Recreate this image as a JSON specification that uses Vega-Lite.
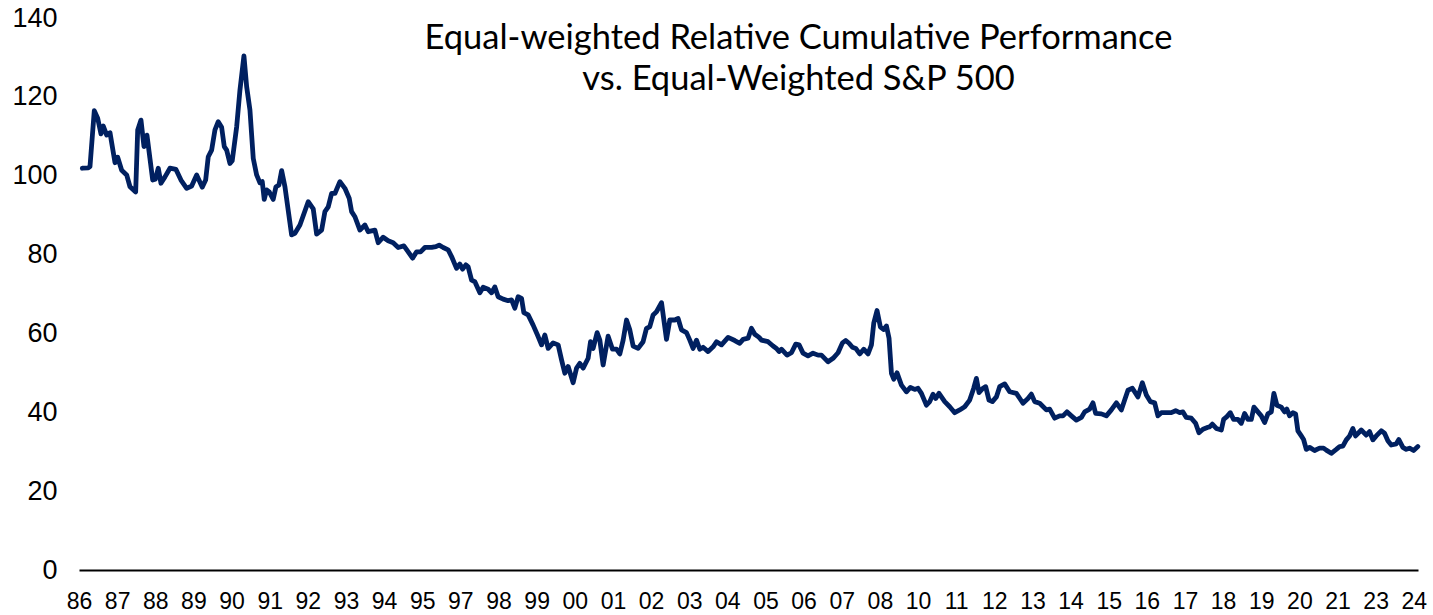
{
  "$schema": "https://vega.github.io/schema/vega-lite/v6.json",
  "autosize": "none",
  "width": 1339,
  "height": 552,
  "padding": {"left": 79, "top": 18, "right": 15, "bottom": 45},
  "background": "white",
  "config": {"view": {"stroke": null}},
  "title": {
    "text": ["Equal-weighted Relative Cumulative Performance", "vs. Equal-Weighted S&P 500"],
    "font": "Lato",
    "fontSize": 34.5,
    "fontWeight": "normal",
    "color": "black",
    "anchor": "middle",
    "lineHeight": 41,
    "dx": 50,
    "dy": 97
  },
  "data": {
    "values": [
      {"pos": 0.087, "value": 101.9}, {"pos": 0.244, "value": 102.0}, {"pos": 0.288, "value": 102.3},
      {"pos": 0.401, "value": 116.5}, {"pos": 0.490, "value": 114.6}, {"pos": 0.577, "value": 110.6},
      {"pos": 0.637, "value": 112.6}, {"pos": 0.726, "value": 110.3}, {"pos": 0.813, "value": 110.9},
      {"pos": 0.944, "value": 103.3}, {"pos": 1.014, "value": 104.7}, {"pos": 1.119, "value": 101.4},
      {"pos": 1.250, "value": 100.2}, {"pos": 1.337, "value": 97.2}, {"pos": 1.486, "value": 95.9},
      {"pos": 1.539, "value": 111.6}, {"pos": 1.625, "value": 114.1}, {"pos": 1.704, "value": 107.4},
      {"pos": 1.782, "value": 110.3}, {"pos": 1.932, "value": 98.9}, {"pos": 2.000, "value": 99.1},
      {"pos": 2.079, "value": 101.9}, {"pos": 2.149, "value": 98.1}, {"pos": 2.254, "value": 99.7},
      {"pos": 2.385, "value": 101.9}, {"pos": 2.543, "value": 101.6}, {"pos": 2.674, "value": 98.9},
      {"pos": 2.823, "value": 96.8}, {"pos": 2.954, "value": 97.4}, {"pos": 3.085, "value": 100.2},
      {"pos": 3.232, "value": 97.1}, {"pos": 3.321, "value": 98.9}, {"pos": 3.389, "value": 104.8},
      {"pos": 3.478, "value": 106.5}, {"pos": 3.565, "value": 111.6}, {"pos": 3.651, "value": 113.7},
      {"pos": 3.740, "value": 112.3}, {"pos": 3.809, "value": 107.4}, {"pos": 3.872, "value": 106.5},
      {"pos": 3.958, "value": 103.1}, {"pos": 4.018, "value": 103.8}, {"pos": 4.134, "value": 112.4},
      {"pos": 4.220, "value": 121.7}, {"pos": 4.325, "value": 130.4}, {"pos": 4.396, "value": 122.6},
      {"pos": 4.482, "value": 116.7}, {"pos": 4.569, "value": 104.4}, {"pos": 4.658, "value": 100.2},
      {"pos": 4.744, "value": 98.2}, {"pos": 4.805, "value": 98.5}, {"pos": 4.857, "value": 94.0},
      {"pos": 4.920, "value": 96.4}, {"pos": 4.988, "value": 95.9}, {"pos": 5.093, "value": 94.0},
      {"pos": 5.164, "value": 97.2}, {"pos": 5.242, "value": 97.6}, {"pos": 5.313, "value": 101.3},
      {"pos": 5.400, "value": 97.2}, {"pos": 5.575, "value": 85.0}, {"pos": 5.662, "value": 85.4},
      {"pos": 5.793, "value": 87.5}, {"pos": 6.010, "value": 93.4}, {"pos": 6.142, "value": 91.6},
      {"pos": 6.231, "value": 85.2}, {"pos": 6.362, "value": 86.2}, {"pos": 6.448, "value": 90.9},
      {"pos": 6.535, "value": 92.1}, {"pos": 6.624, "value": 95.5}, {"pos": 6.710, "value": 95.5},
      {"pos": 6.841, "value": 98.5}, {"pos": 6.972, "value": 96.8}, {"pos": 7.085, "value": 94.3},
      {"pos": 7.148, "value": 90.9}, {"pos": 7.235, "value": 89.6}, {"pos": 7.366, "value": 86.2},
      {"pos": 7.497, "value": 87.5}, {"pos": 7.583, "value": 85.8}, {"pos": 7.759, "value": 86.2},
      {"pos": 7.845, "value": 83.0}, {"pos": 7.976, "value": 84.4}, {"pos": 8.107, "value": 83.5},
      {"pos": 8.238, "value": 83.0}, {"pos": 8.370, "value": 81.8}, {"pos": 8.519, "value": 82.2},
      {"pos": 8.632, "value": 80.7}, {"pos": 8.747, "value": 79.1}, {"pos": 8.852, "value": 80.7},
      {"pos": 8.957, "value": 80.7}, {"pos": 9.069, "value": 81.8}, {"pos": 9.245, "value": 81.8},
      {"pos": 9.358, "value": 82.0}, {"pos": 9.444, "value": 82.4}, {"pos": 9.549, "value": 81.8},
      {"pos": 9.680, "value": 81.2}, {"pos": 9.769, "value": 79.5}, {"pos": 9.900, "value": 76.5},
      {"pos": 9.987, "value": 77.6}, {"pos": 10.058, "value": 76.3}, {"pos": 10.144, "value": 77.4},
      {"pos": 10.204, "value": 76.9}, {"pos": 10.294, "value": 73.5}, {"pos": 10.380, "value": 73.1},
      {"pos": 10.511, "value": 70.3}, {"pos": 10.598, "value": 71.7}, {"pos": 10.729, "value": 71.2},
      {"pos": 10.818, "value": 70.3}, {"pos": 10.904, "value": 71.8}, {"pos": 10.991, "value": 69.3},
      {"pos": 11.122, "value": 68.7}, {"pos": 11.253, "value": 68.3}, {"pos": 11.342, "value": 68.5},
      {"pos": 11.428, "value": 66.4}, {"pos": 11.515, "value": 69.3}, {"pos": 11.604, "value": 68.9},
      {"pos": 11.664, "value": 65.3}, {"pos": 11.777, "value": 64.7}, {"pos": 11.908, "value": 62.1},
      {"pos": 12.039, "value": 59.2}, {"pos": 12.128, "value": 57.1}, {"pos": 12.215, "value": 59.6},
      {"pos": 12.302, "value": 56.2}, {"pos": 12.432, "value": 57.6}, {"pos": 12.564, "value": 57.1},
      {"pos": 12.653, "value": 53.3}, {"pos": 12.739, "value": 49.9}, {"pos": 12.826, "value": 51.6},
      {"pos": 12.957, "value": 47.5}, {"pos": 13.046, "value": 51.2}, {"pos": 13.132, "value": 52.4},
      {"pos": 13.219, "value": 51.2}, {"pos": 13.350, "value": 53.7}, {"pos": 13.413, "value": 57.9},
      {"pos": 13.481, "value": 56.2}, {"pos": 13.586, "value": 60.2}, {"pos": 13.657, "value": 58.3},
      {"pos": 13.743, "value": 52.0}, {"pos": 13.874, "value": 59.3}, {"pos": 13.989, "value": 56.0},
      {"pos": 14.094, "value": 56.0}, {"pos": 14.181, "value": 54.8}, {"pos": 14.268, "value": 58.3},
      {"pos": 14.356, "value": 63.4}, {"pos": 14.443, "value": 60.9}, {"pos": 14.530, "value": 56.8},
      {"pos": 14.660, "value": 56.2}, {"pos": 14.791, "value": 57.9}, {"pos": 14.880, "value": 61.3},
      {"pos": 14.967, "value": 61.7}, {"pos": 15.054, "value": 64.7}, {"pos": 15.143, "value": 65.5},
      {"pos": 15.274, "value": 67.8}, {"pos": 15.405, "value": 58.5}, {"pos": 15.491, "value": 63.4},
      {"pos": 15.622, "value": 63.4}, {"pos": 15.709, "value": 63.8}, {"pos": 15.798, "value": 60.9},
      {"pos": 15.929, "value": 60.2}, {"pos": 16.016, "value": 58.3}, {"pos": 16.102, "value": 56.2},
      {"pos": 16.191, "value": 58.3}, {"pos": 16.278, "value": 56.0}, {"pos": 16.365, "value": 56.5},
      {"pos": 16.496, "value": 55.4}, {"pos": 16.627, "value": 56.6}, {"pos": 16.716, "value": 57.9},
      {"pos": 16.847, "value": 57.1}, {"pos": 17.020, "value": 59.0}, {"pos": 17.195, "value": 58.2},
      {"pos": 17.326, "value": 57.5}, {"pos": 17.413, "value": 58.5}, {"pos": 17.544, "value": 58.8},
      {"pos": 17.633, "value": 61.3}, {"pos": 17.720, "value": 59.8}, {"pos": 17.833, "value": 59.0},
      {"pos": 17.895, "value": 58.3}, {"pos": 18.068, "value": 57.9}, {"pos": 18.199, "value": 56.8},
      {"pos": 18.288, "value": 56.2}, {"pos": 18.356, "value": 55.4}, {"pos": 18.419, "value": 56.0},
      {"pos": 18.566, "value": 54.5}, {"pos": 18.681, "value": 55.1}, {"pos": 18.794, "value": 57.3},
      {"pos": 18.881, "value": 57.1}, {"pos": 18.985, "value": 55.0}, {"pos": 19.116, "value": 54.3},
      {"pos": 19.247, "value": 55.0}, {"pos": 19.379, "value": 54.5}, {"pos": 19.468, "value": 54.5},
      {"pos": 19.641, "value": 52.8}, {"pos": 19.772, "value": 53.7}, {"pos": 19.903, "value": 55.1},
      {"pos": 20.018, "value": 57.6}, {"pos": 20.105, "value": 58.2}, {"pos": 20.191, "value": 57.5},
      {"pos": 20.280, "value": 56.5}, {"pos": 20.367, "value": 56.2}, {"pos": 20.472, "value": 54.8},
      {"pos": 20.576, "value": 56.0}, {"pos": 20.689, "value": 54.8}, {"pos": 20.779, "value": 57.1},
      {"pos": 20.839, "value": 62.6}, {"pos": 20.925, "value": 65.8}, {"pos": 21.014, "value": 61.6},
      {"pos": 21.101, "value": 61.0}, {"pos": 21.172, "value": 61.9}, {"pos": 21.240, "value": 58.8},
      {"pos": 21.303, "value": 49.9}, {"pos": 21.364, "value": 48.4}, {"pos": 21.450, "value": 50.0},
      {"pos": 21.565, "value": 46.9}, {"pos": 21.696, "value": 45.2}, {"pos": 21.800, "value": 46.3},
      {"pos": 21.913, "value": 45.8}, {"pos": 22.000, "value": 46.1}, {"pos": 22.089, "value": 44.8},
      {"pos": 22.220, "value": 41.8}, {"pos": 22.307, "value": 42.7}, {"pos": 22.393, "value": 44.6},
      {"pos": 22.464, "value": 43.5}, {"pos": 22.550, "value": 44.8}, {"pos": 22.700, "value": 42.7},
      {"pos": 22.831, "value": 41.4}, {"pos": 22.962, "value": 39.9}, {"pos": 23.093, "value": 40.6},
      {"pos": 23.224, "value": 41.4}, {"pos": 23.355, "value": 43.1}, {"pos": 23.460, "value": 46.1},
      {"pos": 23.531, "value": 48.6}, {"pos": 23.599, "value": 45.0}, {"pos": 23.704, "value": 46.1},
      {"pos": 23.774, "value": 46.5}, {"pos": 23.861, "value": 43.1}, {"pos": 23.950, "value": 42.7},
      {"pos": 24.055, "value": 43.9}, {"pos": 24.141, "value": 46.5}, {"pos": 24.272, "value": 47.2},
      {"pos": 24.403, "value": 45.2}, {"pos": 24.579, "value": 44.8}, {"pos": 24.752, "value": 42.3},
      {"pos": 24.883, "value": 43.5}, {"pos": 24.972, "value": 44.6}, {"pos": 25.059, "value": 42.7},
      {"pos": 25.190, "value": 42.3}, {"pos": 25.365, "value": 40.6}, {"pos": 25.452, "value": 40.8},
      {"pos": 25.583, "value": 38.5}, {"pos": 25.714, "value": 39.1}, {"pos": 25.801, "value": 39.1},
      {"pos": 25.905, "value": 40.1}, {"pos": 26.021, "value": 39.1}, {"pos": 26.152, "value": 38.0},
      {"pos": 26.283, "value": 38.7}, {"pos": 26.369, "value": 40.1}, {"pos": 26.500, "value": 40.8},
      {"pos": 26.587, "value": 42.4}, {"pos": 26.658, "value": 39.7}, {"pos": 26.807, "value": 39.6},
      {"pos": 26.938, "value": 39.1}, {"pos": 27.069, "value": 40.6}, {"pos": 27.201, "value": 42.4},
      {"pos": 27.331, "value": 40.6}, {"pos": 27.418, "value": 43.1}, {"pos": 27.505, "value": 45.6},
      {"pos": 27.620, "value": 46.1}, {"pos": 27.767, "value": 43.9}, {"pos": 27.882, "value": 47.5},
      {"pos": 27.987, "value": 44.4}, {"pos": 28.092, "value": 42.7}, {"pos": 28.205, "value": 42.4},
      {"pos": 28.291, "value": 39.1}, {"pos": 28.380, "value": 39.9}, {"pos": 28.511, "value": 39.9},
      {"pos": 28.642, "value": 39.9}, {"pos": 28.755, "value": 40.4}, {"pos": 28.861, "value": 39.9},
      {"pos": 28.947, "value": 40.1}, {"pos": 29.035, "value": 38.7}, {"pos": 29.166, "value": 38.5},
      {"pos": 29.279, "value": 37.2}, {"pos": 29.366, "value": 34.8}, {"pos": 29.471, "value": 35.7},
      {"pos": 29.602, "value": 36.2}, {"pos": 29.646, "value": 36.3}, {"pos": 29.717, "value": 37.0},
      {"pos": 29.822, "value": 35.9}, {"pos": 29.953, "value": 35.5}, {"pos": 30.013, "value": 38.2},
      {"pos": 30.099, "value": 38.9}, {"pos": 30.189, "value": 39.9}, {"pos": 30.275, "value": 38.2},
      {"pos": 30.388, "value": 38.2}, {"pos": 30.477, "value": 37.2}, {"pos": 30.563, "value": 39.7},
      {"pos": 30.650, "value": 38.2}, {"pos": 30.739, "value": 38.2}, {"pos": 30.807, "value": 41.3},
      {"pos": 30.912, "value": 40.1}, {"pos": 31.001, "value": 39.1}, {"pos": 31.088, "value": 37.4},
      {"pos": 31.174, "value": 39.6}, {"pos": 31.263, "value": 40.1}, {"pos": 31.331, "value": 44.8},
      {"pos": 31.410, "value": 41.8}, {"pos": 31.525, "value": 41.3}, {"pos": 31.612, "value": 40.1},
      {"pos": 31.672, "value": 40.8}, {"pos": 31.743, "value": 39.1}, {"pos": 31.830, "value": 39.9},
      {"pos": 31.900, "value": 39.6}, {"pos": 31.961, "value": 35.3}, {"pos": 32.050, "value": 34.0},
      {"pos": 32.110, "value": 33.1}, {"pos": 32.181, "value": 30.6}, {"pos": 32.268, "value": 31.1},
      {"pos": 32.398, "value": 30.3}, {"pos": 32.529, "value": 30.9}, {"pos": 32.634, "value": 30.9},
      {"pos": 32.705, "value": 30.4}, {"pos": 32.836, "value": 29.6}, {"pos": 32.967, "value": 30.6},
      {"pos": 33.054, "value": 31.3}, {"pos": 33.140, "value": 31.4}, {"pos": 33.229, "value": 33.0},
      {"pos": 33.316, "value": 34.0}, {"pos": 33.402, "value": 35.9}, {"pos": 33.473, "value": 34.0},
      {"pos": 33.622, "value": 35.5}, {"pos": 33.753, "value": 34.2}, {"pos": 33.840, "value": 35.1},
      {"pos": 33.927, "value": 33.0}, {"pos": 34.015, "value": 34.0}, {"pos": 34.146, "value": 35.3},
      {"pos": 34.233, "value": 34.7}, {"pos": 34.320, "value": 32.8}, {"pos": 34.409, "value": 31.7},
      {"pos": 34.540, "value": 32.0}, {"pos": 34.608, "value": 33.1}, {"pos": 34.713, "value": 31.1},
      {"pos": 34.802, "value": 30.6}, {"pos": 34.889, "value": 30.9}, {"pos": 34.994, "value": 30.3},
      {"pos": 35.106, "value": 31.3}
    ]
  },
  "mark": {"type": "line", "color": "#002060", "strokeWidth": 4.8, "strokeJoin": "round", "strokeCap": "round"},
  "encoding": {
    "x": {
      "field": "pos",
      "type": "quantitative",
      "scale": {"domain": [0, 35.11], "nice": false, "zero": false},
      "axis": {
        "title": null,
        "grid": false,
        "ticks": false,
        "domain": true,
        "domainColor": "#000000",
        "domainWidth": 2,
        "values": [0,1,2,3,4,5,6,7,8,9,10,11,12,13,14,15,16,17,18,19,20,21,22,23,24,25,26,27,28,29,30,31,32,33,34,35],
        "labelExpr": "['86','87','88','89','90','91','92','93','94','95','97','98','99','00','01','02','03','04','05','06','07','08','10','11','12','13','14','15','16','17','18','19','20','21','23','24'][datum.value]",
        "labelFont": "Liberation Sans",
        "labelFontSize": 23,
        "labelColor": "#000000",
        "labelPadding": 20,
        "labelOverlap": false,
        "labelFlush": false
      }
    },
    "y": {
      "field": "value",
      "type": "quantitative",
      "scale": {"domain": [0, 140], "nice": false},
      "axis": {
        "title": null,
        "grid": false,
        "ticks": false,
        "domain": false,
        "values": [0, 20, 40, 60, 80, 100, 120, 140],
        "labelFont": "Liberation Sans",
        "labelFontSize": 27,
        "labelColor": "#000000",
        "labelPadding": 22,
        "labelFlush": false
      }
    }
  }
}
